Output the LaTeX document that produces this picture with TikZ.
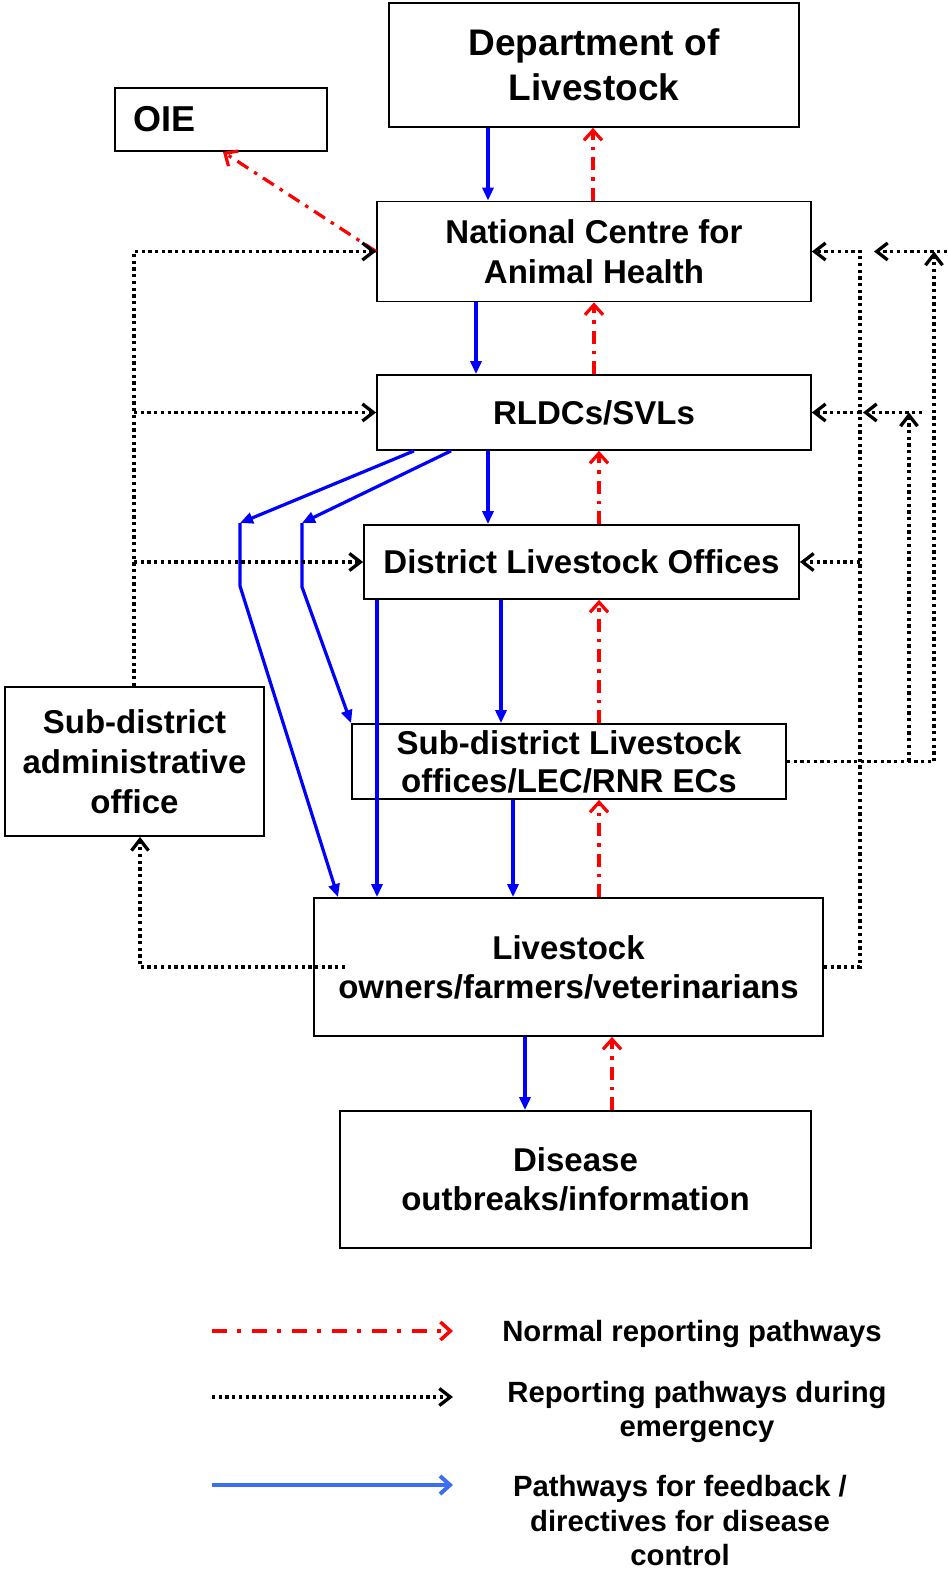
\documentclass[tikz,border=0pt]{standalone}
\usepackage{fontspec}
\setmainfont{Liberation Sans}
\usetikzlibrary{arrows.meta}
\definecolor{fbblue}{RGB}{0,0,255}
\definecolor{legblue}{RGB}{60,110,245}
\tikzset{
  box/.style={draw=black, line width=1.8pt, inner sep=0pt, align=center, text=black,
    font=\bfseries\fontsize{33}{40}\selectfont},
  fb/.style={draw=fbblue, line width=3.2pt, -{Triangle[length=13pt,width=11pt]}},
  nr/.style={draw=red, line width=3.2pt, dash pattern=on 13pt off 7pt on 3.5pt off 7pt,
    -{Straight Barb[length=10pt,width=18pt]}},
  em/.style={draw=black, line width=3.3pt, dash pattern=on 3.3pt off 3.4pt,
    -{Straight Barb[length=11pt,width=17pt]}},
  legtext/.style={align=center, text=black, font=\bfseries\fontsize{29.3}{34.5}\selectfont}
}
\begin{document}
\begin{tikzpicture}[x=1pt,y=-1pt]
\useasboundingbox (0,0) rectangle (948,1572);

% boxes
\node[box, minimum width=410pt, minimum height=124pt, font=\bfseries\fontsize{37}{45}\selectfont] (dept) at (594,65) {Department of\\Livestock};
\node[box, minimum width=212pt, minimum height=63pt, text width=176pt, inner xsep=18pt, align=left, font=\bfseries\fontsize{36}{42}\selectfont] (oie) at (221,119.5) {OIE};
\node[box, minimum width=434pt, minimum height=100pt] (ncah) at (594,251.5) {National Centre for\\Animal Health};
\node[box, minimum width=434pt, minimum height=75pt] (rldc) at (594,412.5) {RLDCs/SVLs};
\node[box, minimum width=435pt, minimum height=74pt] (dlo) at (581.5,562) {District Livestock Offices};
\node[box, minimum width=434pt, minimum height=75pt, font=\bfseries\fontsize{33}{38}\selectfont] (sublo) at (569,761.5) {Sub-district Livestock\\offices/LEC/RNR ECs};
\node[box, minimum width=259pt, minimum height=149pt] (sdao) at (134.5,761.5) {Sub-district\\administrative\\office};
\node[box, minimum width=509pt, minimum height=138pt, font=\bfseries\fontsize{33}{39}\selectfont] (owners) at (568.5,967) {Livestock\\owners/farmers/veterinarians};
\node[box, minimum width=471pt, minimum height=137pt, font=\bfseries\fontsize{33}{39}\selectfont] (dis) at (575.5,1179.5) {Disease\\outbreaks/information};

% vertical blue / red pairs
\draw[fb] (dept.south -| 488,0) -- (ncah.north -| 488,0);
\draw[nr] (ncah.north -| 593,0) -- (dept.south -| 593,0);
\draw[fb] (ncah.south -| 476,0) -- (rldc.north -| 476,0);
\draw[nr] (rldc.north -| 594,0) -- (ncah.south -| 594,0);
\draw[fb] (rldc.south -| 488,0) -- (dlo.north -| 488,0);
\draw[nr] (dlo.north -| 599,0) -- (rldc.south -| 599,0);
\draw[fb] (dlo.south -| 501,0) -- (sublo.north -| 501,0);
\draw[nr] (sublo.north -| 599,0) -- (dlo.south -| 599,0);
\draw[fb] (dlo.south -| 377,0) -- (owners.north -| 377,0);
\draw[fb] (sublo.south -| 513,0) -- (owners.north -| 513,0);
\draw[nr] (owners.north -| 599,0) -- (sublo.south -| 599,0);
\draw[fb] (owners.south -| 525,0) -- (dis.north -| 525,0);
\draw[nr] (dis.north -| 612,0) -- (owners.south -| 612,0);

% OIE
\draw[nr] (ncah.west) -- (oie.south -| 223,0);

% blue diagonals
\coordinate (b1) at (240,523);
\coordinate (b1m) at (240,586);
\coordinate (b2) at (302,523);
\coordinate (b2m) at (302,587);
\draw[fb] (rldc.south -| 414,0) -- (b1);
\draw[fb] (b1) -- (b1m) -- (owners.north -| 338,0);
\draw[fb] (rldc.south -| 451,0) -- (b2);
\draw[fb] (b2) -- (b2m) -- (sublo.north west);

% left emergency
\draw[em] (sdao.north -| 134,0) -- (ncah.west -| 134,0) -- (ncah.west);
\draw[em] (rldc.west -| 134,0) -- (rldc.west);
\draw[em] (dlo.west -| 134,0) -- (dlo.west);
\coordinate (os) at (345,967);
\draw[em] (os) -- (os -| 140,0) -- (sdao.south -| 140,0);

% right emergency
\draw[em] (owners.east) -- (owners.east -| 860,0) -- (ncah.east -| 860,0) -- (ncah.east);
\draw[em] (rldc.east -| 860,0) -- (rldc.east);
\draw[em] (dlo.east -| 860,0) -- (dlo.east);
\draw[em] (sublo.east) -- (sublo.east -| 934,0) -- (ncah.east -| 934,0);
\draw[em] (sublo.east -| 909,0) -- (rldc.east -| 909,0);
\coordinate (e1) at (947,251.5);
\coordinate (t1) at (874,251.5);
\draw[em] (e1) -- (t1);
\coordinate (e2) at (922,412.5);
\coordinate (t2) at (863,412.5);
\draw[em] (e2) -- (t2);

% legend
\coordinate (l1a) at (212,1331); \coordinate (l1b) at (453,1331);
\coordinate (l2a) at (212,1397); \coordinate (l2b) at (453,1397);
\coordinate (l3a) at (212,1485); \coordinate (l3b) at (453,1485);
\draw[draw=red, line width=3.5pt, dash pattern=on 15pt off 10pt on 4pt off 11pt, -{Straight Barb[length=10pt,width=18pt]}] (l1a) -- (l1b);
\draw[em] (l2a) -- (l2b);
\draw[draw=legblue, line width=4pt, -{Straight Barb[length=10pt,width=18pt]}] (l3a) -- (l3b);
\node[legtext] (lg1) at (692,1334) {Normal reporting pathways};
\node[legtext] (lg2) at (697,1412) {Reporting pathways during\\emergency};
\node[legtext] (lg3) at (680,1521) {Pathways for feedback /\\directives for disease\\control};
\end{tikzpicture}
\end{document}
